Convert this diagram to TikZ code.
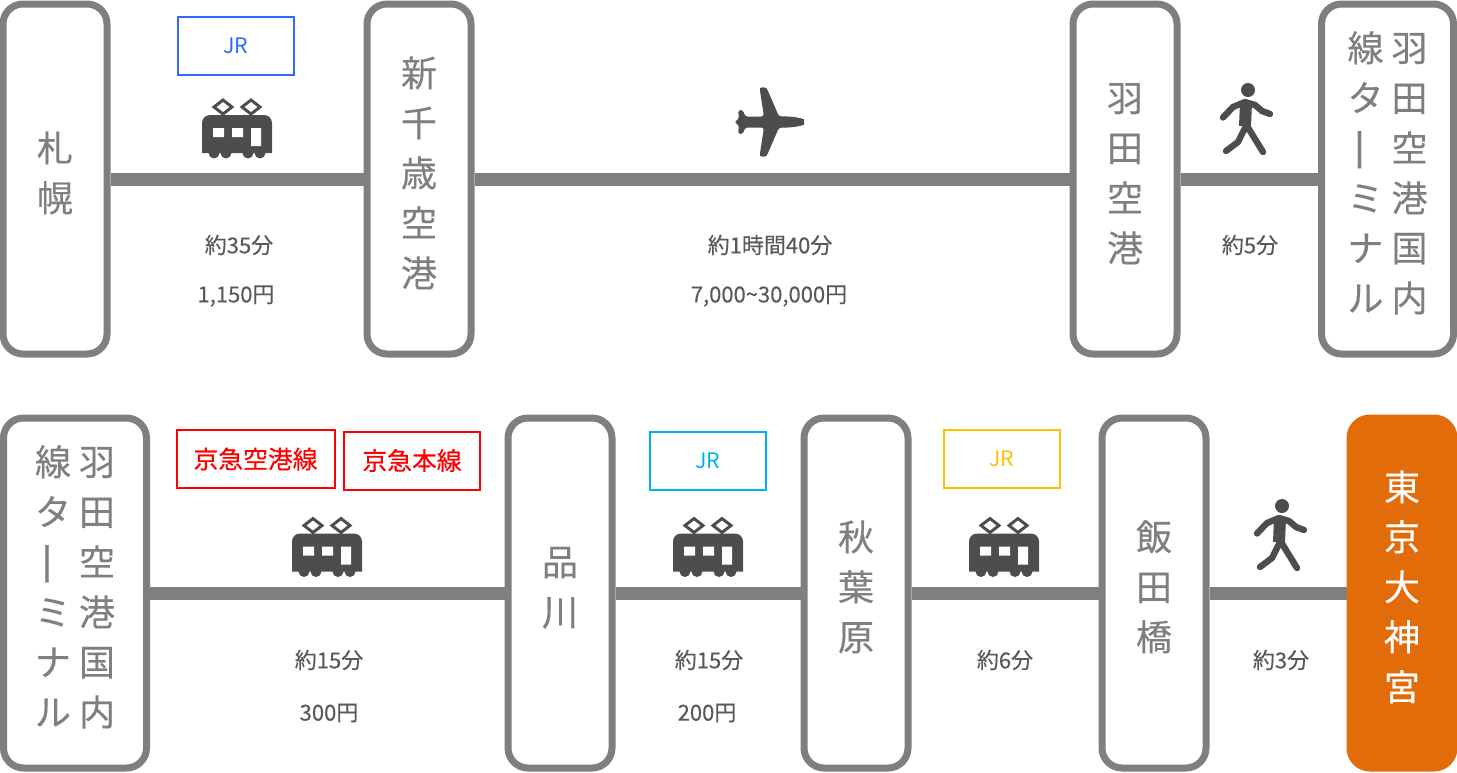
\documentclass[tikz,border=0pt]{standalone}
\usepackage{fontspec}
\usepackage{graphicx}
\setmainfont{Noto Sans CJK JP}
\newfontfamily\heavyfont[FakeBold=0.25]{Noto Sans CJK JP}
\newfontfamily\redfont[FakeBold=0.45]{Noto Sans CJK JP}
\usetikzlibrary{calc,positioning}
\definecolor{framex}{HTML}{7F7F7F}
\definecolor{iconx}{HTML}{4D4D4D}
\definecolor{labelx}{HTML}{595959}
\definecolor{orangex}{HTML}{E36C0A}
\definecolor{bluex}{HTML}{3366FF}
\definecolor{cyanx}{HTML}{00B0F0}
\definecolor{goldx}{HTML}{FFC000}
\definecolor{redx}{HTML}{FF0000}
\newcommand{\stackup}[1]{\begin{tabular}{@{}c@{}}#1\\[3.75pt]\end{tabular}}
\newcommand{\termname}{\begin{tabular}{@{}c@{\hspace{6pt}}c@{}}線&羽\\タ&田\\\raisebox{3pt}{\rotatebox[origin=c]{90}{\scalebox{1.3}[1]{ー}}}&空\\ミ&港\\ナ&国\\ル&内\\[3.75pt]\end{tabular}}
\tikzset{
  station/.style={draw=framex,line width=5.25pt,rounded corners=15pt,fill=white,text=framex,
    minimum width=78pt,minimum height=262.5pt,inner sep=0pt,font=\heavyfont\fontsize{27}{37.5}\selectfont},
  goal/.style={station,draw=orangex,fill=orangex,text=white},
  link/.style={framex,line width=9.75pt},
  cost/.style={text=labelx,font=\heavyfont\fontsize{16.5}{20}\selectfont,inner sep=0pt},
  line/.style={draw=#1,text=#1,line width=1.5pt,minimum height=43.5pt,inner sep=0pt,font=\fontsize{16}{20}\selectfont},
  keikyu/.style={line=redx,font=\redfont\fontsize{18.6}{20}\selectfont},
  train/.pic={
    \fill[iconx] (-35,25) -- (-35,-5) arc (180:270:8) -- (27,-13) arc (270:360:8) -- (35,25) -- cycle;
    \foreach \wx in {-23,-11,11,23}{\fill[iconx] (\wx,25) circle (5.5);}
    \foreach \px in {-14,14}{
      \draw[iconx,line width=2.2pt,fill=white] (\px-9,-21) -- (\px,-28) -- (\px+9,-21) -- (\px,-14) -- cycle;
      \draw[iconx,line width=1.5pt] (\px,-14) -- (\px,-12);
    }
    \fill[white] (-24,0) rectangle (-13,9) (-5,0) rectangle (6,9) (14,0) rectangle (24,18);
  },
  plane/.pic={
    \fill[iconx,rounded corners=2pt] (34,0) .. controls (34,-3) and (24,-6) .. (9,-5.5) -- (-2,-31) .. controls (-4,-35) and (-10,-35) .. (-10,-31)
      -- (-6,-5.5) -- (-25,-5.5) -- (-27,-12) -- (-32,-12) -- (-31,-3) -- (-36,0) -- (-31,3) -- (-32,12) -- (-27,12) -- (-25,5.5)
      -- (-6,5.5) -- (-10,31) .. controls (-10,35) and (-4,35) .. (-2,31) -- (9,5.5) .. controls (24,6) and (34,3) .. (34,0) -- cycle;
  },
  walker/.pic={
    \fill[iconx] (1,-30) circle (7);
    \draw[iconx,line width=4.8pt,line cap=round,line join=round] (-24,-2.5) -- (-14,-13) -- (-2,-18) -- (8,-15) -- (15,-9) -- (23,-6);
    \draw[iconx,line width=4.8pt,line cap=round,line join=round] (-21,31) -- (-9,22) -- (-2,8) -- (0,6) -- (16,32);
    \draw[iconx,line width=9pt] (-1,-17) -- (-2,6);
  }
}
\begin{document}
\begin{tikzpicture}[x=0.75pt,y=-0.75pt]
\useasboundingbox (0,0) rectangle (1457,772);
\foreach \nm/\xx/\yy/\txt in {sapporo/55/179/札\\幌,chitose/419/179/新\\千\\歳\\空\\港,haneda/1125/179/羽\\田\\空\\港,shinagawa/560/593/品\\川,akiba/856/593/秋\\葉\\原,iidabashi/1154/593/飯\\田\\橋}{
  \node[station] (\nm) at (\xx,\yy) {\stackup{\txt}};
}
\node[station,minimum width=99pt] (terminalA) at (1387.5,179) {\termname};
\node[station,minimum width=107.25pt] (terminalB) at (75,593) {\termname};
\node[goal] (jingu) at (1402,593) {\stackup{東\\京\\大\\神\\宮}};
\draw[link] (sapporo) -- (chitose);
\draw[link] (chitose) -- (haneda);
\draw[link] (haneda) -- (terminalA);
\draw[link] (terminalB) -- (shinagawa);
\draw[link] (shinagawa) -- (akiba);
\draw[link] (akiba) -- (iidabashi);
\draw[link] (iidabashi) -- (jingu);
\node[line=bluex,minimum width=87.5pt] (jrA) at (236,45.5) {JR};
\node[keikyu,minimum width=118.5pt] (keikyuA) at (255.5,459) {京急空港線};
\node[keikyu,minimum width=101.5pt] (keikyuB) at (412,460.5) {京急本線};
\node[line=cyanx,minimum width=87.5pt] (jrB) at (708,460.5) {JR};
\node[line=goldx,minimum width=87.5pt] (jrC) at (1002,458.5) {JR};
\foreach \xx/\yy in {237/128,327/546.5,708/546.5,1004/546.5}{
  \pic at (\xx,\yy) {train};
}
\pic at (770,122) {plane};
\pic at (1247,120) {walker};
\pic at (1281,536) {walker};
\foreach \nm/\xx/\yy/\txt in {timeA/239/245/約35分,fareA/236/296/{1,150円},timeB/770/245/約1時間40分,fareB/769/296/{7,000\textasciitilde30,000円},timeC/1250/245/約5分,timeD/329/660/約15分,fareD/329/713/300円,timeE/709/660/約15分,fareE/707/713/200円,timeF/1005/660/約6分,timeG/1281/660/約3分}{
  \node[cost] (\nm) at (\xx,\yy) {\txt};
}
\end{tikzpicture}
\end{document}
